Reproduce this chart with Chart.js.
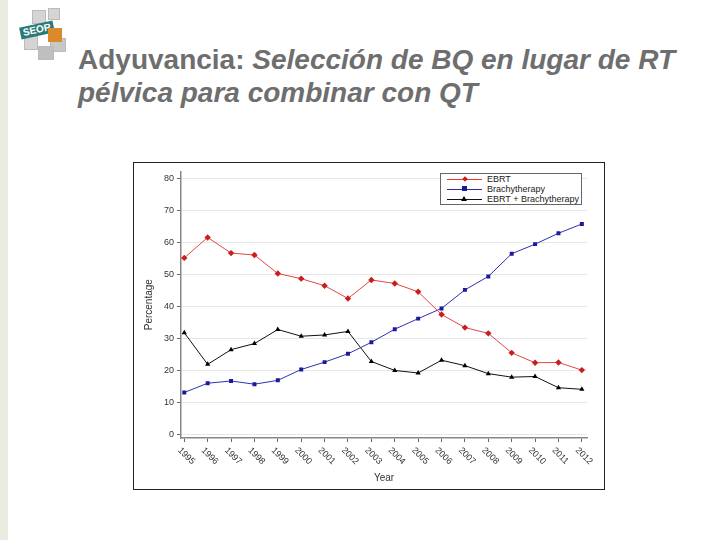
<!DOCTYPE html>
<html>
<head>
<meta charset="utf-8">
<script src="https://cdn.jsdelivr.net/npm/chart.js@4.4.0/dist/chart.umd.min.js"></script>
<style>
  body { margin: 0; width: 720px; height: 540px; background: #fff; position: relative; overflow: hidden; font-family: "Liberation Sans", Arial, sans-serif; }
  #strip { position: absolute; left: 0; top: 0; width: 8px; height: 540px; background: #ebebe0; }
  #title { position: absolute; left: 78px; top: 43px; font-size: 28px; font-weight: bold; color: #6e6e6e; line-height: 33px; white-space: nowrap; }
  #frame { position: absolute; left: 133px; top: 162px; width: 470px; height: 326px; border: 1px solid #222; }
  #legend { position: absolute; left: 306px; top: 10px; width: 140px; height: 30px; border: 1px solid #666; background: #fff; font-size: 9px; color: #222; }
  .row { position: relative; height: 10px; line-height: 10px; }
  .ln { position: absolute; left: 6px; top: 5px; width: 35px; height: 1px; }
  .mk { position: absolute; left: 21px; top: 2px; width: 5px; height: 5px; }
  .tx { position: absolute; left: 46px; top: 0; white-space: nowrap; }
  #logo { position: absolute; left: 18px; top: 6px; width: 52px; height: 56px; }
  .cube { position: absolute; background: #d4d4d4; border: 1px solid #bbb; }
</style>
</head>
<body>
<div id="strip"></div>
<div id="logo">
  <div class="cube" style="left:14px;top:4px;width:12px;height:12px"></div>
  <div class="cube" style="left:30px;top:2px;width:10px;height:10px"></div>
  <div class="cube" style="left:6px;top:30px;width:12px;height:12px"></div>
  <div class="cube" style="left:32px;top:32px;width:14px;height:12px;background:#c8c8c8"></div>
  <div class="cube" style="left:20px;top:40px;width:14px;height:12px;background:#bfbfbf"></div>
  <div style="position:absolute;left:2px;top:18px;width:34px;height:12px;background:#2a7b78;color:#fff;font-size:10px;font-weight:bold;line-height:12px;text-align:center;transform:rotate(-12deg)">SEOR</div>
  <div style="position:absolute;left:30px;top:22px;width:14px;height:14px;background:#d98a2a"></div>
</div>
<div id="title">Adyuvancia: <i>Selección de BQ en lugar de RT<br>pélvica para combinar con QT</i></div>
<div id="frame">
  <canvas id="myChart" width="470" height="326"></canvas>
  <div id="legend">
    <div class="row"><div class="ln" style="background:#e23a3a"></div><div class="mk" style="background:#c81e1e;transform:rotate(45deg);width:4px;height:4px;left:22px;top:3px"></div><div class="tx">EBRT</div></div>
    <div class="row"><div class="ln" style="background:#2828a8"></div><div class="mk" style="background:#1a1a9a"></div><div class="tx">Brachytherapy</div></div>
    <div class="row"><div class="ln" style="background:#111"></div><div class="mk" style="width:0;height:0;border-left:3px solid transparent;border-right:3px solid transparent;border-bottom:5px solid #000;left:20px"></div><div class="tx">EBRT + Brachytherapy</div></div>
  </div>
</div>
<script>
var years = [1995, 1996, 1997, 1998, 1999, 2000, 2001, 2002, 2003, 2004, 2005, 2006, 2007, 2008, 2009, 2010, 2011, 2012];
var ebrt = [55.1, 61.5, 56.6, 56.0, 50.2, 48.6, 46.4, 42.4, 48.2, 47.1, 44.5, 37.4, 33.3, 31.5, 25.4, 22.3, 22.4, 20.0];
var brachy = [13.0, 15.9, 16.6, 15.6, 16.8, 20.2, 22.5, 25.1, 28.7, 32.8, 36.1, 39.3, 45.1, 49.3, 56.4, 59.4, 62.8, 65.7];
var combo = [31.7, 21.8, 26.4, 28.3, 32.7, 30.6, 31.0, 32.1, 22.7, 19.9, 19.1, 23.1, 21.4, 18.9, 17.8, 18.0, 14.5, 14.0];
var yTicks = [0, 10, 20, 30, 40, 50, 60, 70, 80];

function pts(arr) {
    return arr.map(function (v, i) { return { x: years[i], y: v }; });
}

var extras = {
    id: 'extras',
    afterDraw: function (chart) {
        var ctx = chart.ctx;
        var xs = chart.scales.x;
        var area = chart.chartArea;
        ctx.save();
        ctx.fillStyle = '#333';
        ctx.font = '9px "Liberation Sans", Arial, sans-serif';
        ctx.textAlign = 'left';
        ctx.textBaseline = 'middle';
        years.forEach(function (yr) {
            var px = xs.getPixelForValue(yr);
            ctx.save();
            ctx.translate(px - 5, area.bottom + 11);
            ctx.rotate(Math.PI / 4);
            ctx.fillText(String(yr), 0, 0);
            ctx.restore();
        });
        ctx.font = '10px "Liberation Sans", Arial, sans-serif';
        ctx.textAlign = 'center';
        ctx.fillText('Year', (area.left + area.right) / 2, 315);
        ctx.translate(15, (area.top + area.bottom) / 2);
        ctx.rotate(-Math.PI / 2);
        ctx.fillText('Percentage', 0, 0);
        ctx.restore();
    }
};

const data = {
    datasets: [{
        label: 'EBRT',
        data: pts(ebrt),
        borderColor: '#e54545',
        backgroundColor: '#c81e1e',
        borderWidth: 1,
        pointStyle: 'rectRot',
        pointRadius: 3.2,
        pointBorderWidth: 0
    }, {
        label: 'Brachytherapy',
        data: pts(brachy),
        borderColor: '#3030b0',
        backgroundColor: '#1a1a9a',
        borderWidth: 1,
        pointStyle: 'rect',
        pointRadius: 2.8,
        pointBorderWidth: 0
    }, {
        label: 'EBRT + Brachytherapy',
        data: pts(combo),
        borderColor: '#111',
        backgroundColor: '#000',
        borderWidth: 1,
        pointStyle: 'triangle',
        pointRadius: 3,
        pointBorderWidth: 0
    }]
};

const config = {
    type: 'line',
    data: data,
    plugins: [extras],
    options: {
        responsive: false,
        animation: false,
        layout: { padding: { top: 4, right: 17, left: 0, bottom: 0 } },
        plugins: { legend: { display: false }, tooltip: { enabled: false } },
        scales: {
            x: {
                type: 'linear',
                min: 1994.86,
                max: 2012.22,
                afterBuildTicks: function (s) { s.ticks = years.map(function (v) { return { value: v }; }); },
                afterFit: function (s) { s.height = 51; },
                ticks: { display: false },
                grid: { drawOnChartArea: false, tickLength: 4, tickColor: '#666' },
                border: { color: '#888', width: 1.5 }
            },
            y: {
                min: -1.23,
                max: 82.15,
                afterBuildTicks: function (s) { s.ticks = yTicks.map(function (v) { return { value: v }; }); },
                afterFit: function (s) { s.width = 47; },
                ticks: { color: '#333', font: { size: 9, family: '"Liberation Sans", Arial, sans-serif' }, padding: 3 },
                grid: { color: '#e6e6e6', tickLength: 4, tickColor: '#666' },
                border: { color: '#888', width: 1.5 }
            }
        }
    }
};

const myChart = new Chart(document.getElementById('myChart'), config);
</script>
</body>
</html>
